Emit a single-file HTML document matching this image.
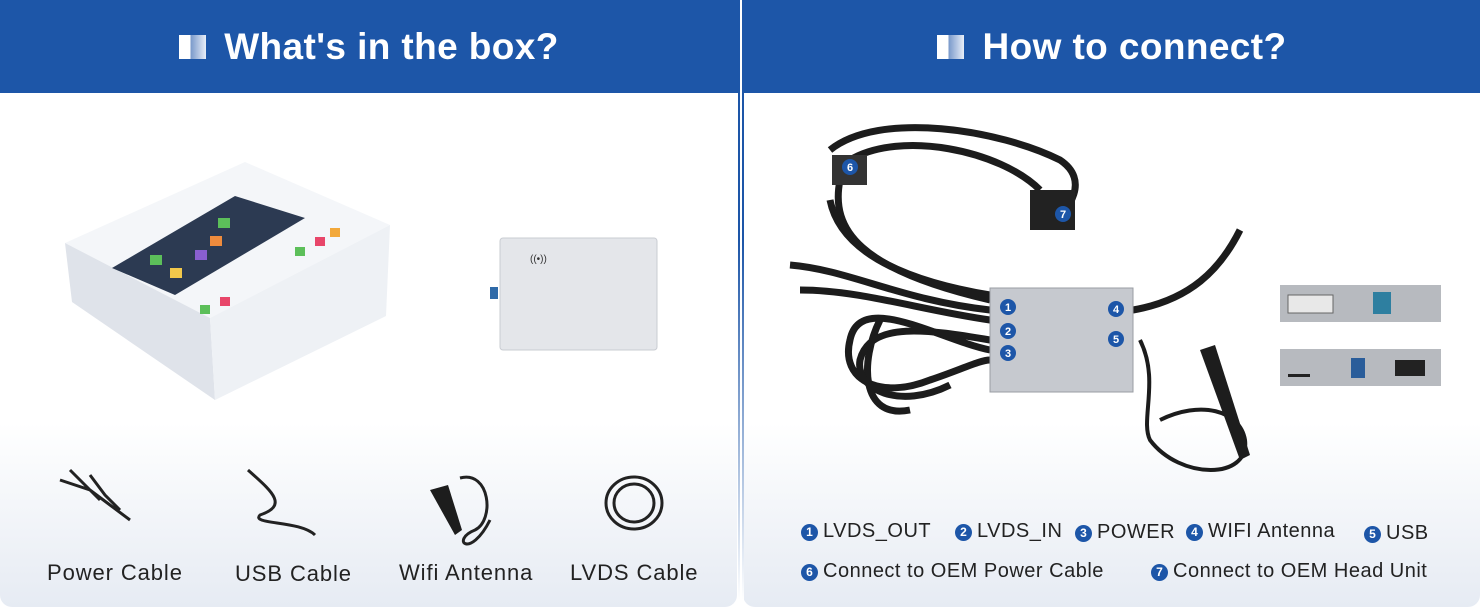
<!DOCTYPE html>
<html><head><meta charset="utf-8"><style>
html,body{margin:0;padding:0;width:1480px;height:607px;overflow:hidden;background:#fff;font-family:"Liberation Sans",sans-serif}
.hdr{position:absolute;top:0;height:93px;background:#1d56a8;color:#fff;font-weight:bold;font-size:37px;letter-spacing:0.4px;display:flex;align-items:center;justify-content:center}
.hdr i{display:inline-block;width:27px;height:24px;margin-right:18px;background:linear-gradient(90deg,#fff 0 40%,#7d9ccc 45%,#e8eef8 100%)}
.lbl{position:absolute;font-size:22px;letter-spacing:0.9px;color:#222}
.leg{position:absolute;font-size:20px;letter-spacing:0.5px;color:#222;white-space:nowrap}
.n{display:inline-block;width:17px;height:17px;border-radius:50%;background:#1d56a8;color:#fff;font-size:12px;font-weight:bold;text-align:center;line-height:17px;vertical-align:1px;margin-right:5px;letter-spacing:0}
</style></head><body>
<div style="position:absolute;left:0;top:93px;width:737px;height:514px;border-radius:0 0 12px 12px;background:linear-gradient(#fff 0,#fff 330px,#e6ebf3 514px)"></div>
<div style="position:absolute;left:743px;top:93px;width:737px;height:514px;border-radius:0 0 12px 12px;background:linear-gradient(#fff 0,#fff 330px,#e6ebf3 514px)"></div>
<div style="position:absolute;left:738px;top:0;width:2px;height:600px;background:linear-gradient(#1d56a8,#1d56a8 40%,#fff)"></div>
<div style="position:absolute;left:742px;top:0;width:2px;height:600px;background:linear-gradient(#1d56a8,#1d56a8 40%,#fff)"></div>
<div class="hdr" style="left:0;width:738px"><i></i>What's in the box?</div>
<div class="hdr" style="left:744px;width:736px"><i></i>How to connect?</div>

<svg width="1480" height="607" style="position:absolute;left:0;top:0">
<polygon points="65,243 245,162 390,225 210,318" fill="#f4f6f9"/>
<polygon points="65,243 210,318 215,400 72,302" fill="#dfe3ea"/>
<polygon points="210,318 390,225 386,316 215,400" fill="#eef1f5"/>
<polygon points="112,268 235,196 305,218 175,295" fill="#2c3a52"/>
<rect x="150" y="255" width="12" height="10" fill="#5cbf5a"/><rect x="170" y="268" width="12" height="10" fill="#f2c84b"/><rect x="195" y="250" width="12" height="10" fill="#8a5fd0"/><rect x="210" y="236" width="12" height="10" fill="#ef8b3d"/><rect x="218" y="218" width="12" height="10" fill="#5cbf5a"/>
<rect x="200" y="305" width="10" height="9" fill="#5cbf5a"/><rect x="220" y="297" width="10" height="9" fill="#e8466a"/><rect x="295" y="247" width="10" height="9" fill="#5cbf5a"/><rect x="315" y="237" width="10" height="9" fill="#e8466a"/><rect x="330" y="228" width="10" height="9" fill="#f2a83b"/>
<rect x="500" y="238" width="157" height="112" rx="3" fill="#e4e6ea" stroke="#c9ccd2"/>
<rect x="490" y="287" width="8" height="12" fill="#2f6aa8"/>
<text x="530" y="262" font-size="10" fill="#333">((•))</text>
<g fill="none" stroke="#222" stroke-width="3">
<path d="M60,480 L90,490 L110,505 L130,520 M70,470 L100,500 M90,475 L105,495 L120,510"/>
<path d="M248,470 C270,490 290,505 260,515 C250,525 300,520 315,535"/>
<path d="M460,478 C490,470 495,520 475,530 C450,540 470,560 490,520"/>
<ellipse cx="634" cy="503" rx="28" ry="26"/><ellipse cx="634" cy="503" rx="20" ry="19"/>
</g>
<path d="M430,490 L448,485 L462,530 L455,535 Z" fill="#1d1d1d"/>
<g fill="none" stroke="#1c1c1c" stroke-width="7">
<path d="M830,150 C880,110 1000,130 1060,160 C1090,180 1070,210 1050,225"/>
<path d="M850,160 C900,130 1000,150 1040,190"/>
<path d="M840,180 C830,230 860,270 990,300"/>
<path d="M830,200 C840,250 900,280 990,295"/>
<path d="M790,265 C850,270 900,300 990,310"/>
<path d="M800,290 C860,290 920,310 990,320"/>
<path d="M990,350 C940,340 860,290 850,340 C840,380 880,400 930,380 C960,370 980,360 990,360"/>
<path d="M880,320 C860,360 860,420 910,410"/>
<path d="M990,340 C930,330 870,320 860,360 C855,390 900,410 950,385"/>
<path d="M1133,310 C1190,300 1220,270 1240,230"/>
</g>
<g fill="none" stroke="#1c1c1c" stroke-width="4">
<path d="M1140,340 C1160,380 1140,420 1150,440 C1180,480 1250,480 1245,440 C1240,410 1200,400 1160,420"/>
</g>
<rect x="990" y="288" width="143" height="104" fill="#c6c9cf" stroke="#9a9da3"/>
<path d="M1200,350 L1215,345 L1250,455 L1240,460 Z" fill="#1d1d1d"/>
<rect x="1030" y="190" width="45" height="40" fill="#222"/>
<rect x="832" y="155" width="35" height="30" fill="#333"/>
<rect x="1280" y="285" width="161" height="37" fill="#b7babf"/>
<rect x="1288" y="295" width="45" height="18" fill="#e8e8e8" stroke="#666"/>
<rect x="1373" y="292" width="18" height="22" fill="#2e7fa0"/>
<rect x="1280" y="349" width="161" height="37" fill="#b7babf"/>
<rect x="1351" y="358" width="14" height="20" fill="#2a5d9a"/>
<rect x="1395" y="360" width="30" height="16" fill="#222"/>
<rect x="1288" y="374" width="22" height="3" fill="#222"/>
<g fill="#1d56a8"><circle cx="850" cy="167" r="8"/><circle cx="1063" cy="214" r="8"/><circle cx="1008" cy="307" r="8"/><circle cx="1008" cy="331" r="8"/><circle cx="1008" cy="353" r="8"/><circle cx="1116" cy="309" r="8"/><circle cx="1116" cy="339" r="8"/></g>
<g fill="#fff" font-size="11" font-weight="bold" text-anchor="middle" font-family="Liberation Sans"><text x="850" y="171">6</text><text x="1063" y="218">7</text><text x="1008" y="311">1</text><text x="1008" y="335">2</text><text x="1008" y="357">3</text><text x="1116" y="313">4</text><text x="1116" y="343">5</text></g>
</svg>

<div class="lbl" style="left:47px;top:560px">Power Cable</div>
<div class="lbl" style="left:235px;top:561px">USB Cable</div>
<div class="lbl" style="left:399px;top:560px">Wifi Antenna</div>
<div class="lbl" style="left:570px;top:560px">LVDS Cable</div>

<div class="leg" style="left:801px;top:520px"><span class="n">1</span>LVDS_OUT</div>
<div class="leg" style="left:955px;top:520px"><span class="n">2</span>LVDS_IN</div>
<div class="leg" style="left:1075px;top:521px"><span class="n">3</span>POWER</div>
<div class="leg" style="left:1186px;top:520px"><span class="n">4</span>WIFI Antenna</div>
<div class="leg" style="left:1364px;top:522px"><span class="n">5</span>USB</div>
<div class="leg" style="left:801px;top:560px"><span class="n">6</span>Connect to OEM Power Cable</div>
<div class="leg" style="left:1151px;top:560px"><span class="n">7</span>Connect to OEM Head Unit</div>
</body></html>
